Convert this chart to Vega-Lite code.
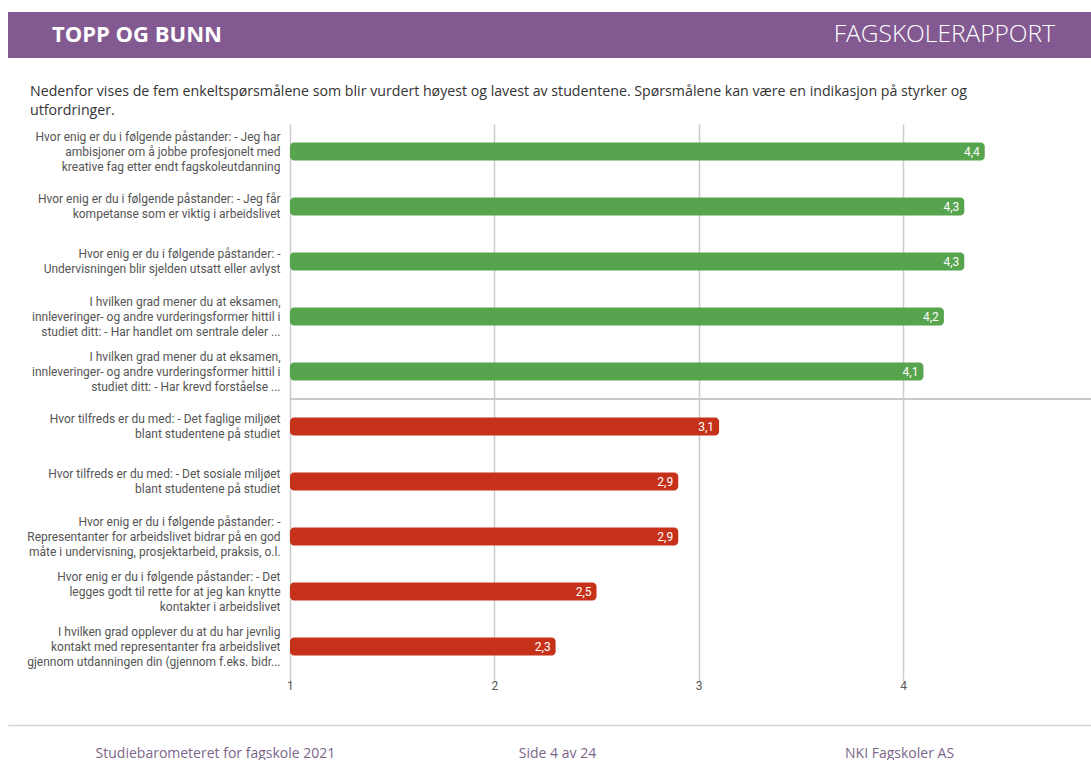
{
  "$schema": "https://vega.github.io/schema/vega-lite/v6.json",
  "padding": {"left": 8, "top": 12, "right": 0, "bottom": 0},
  "background": "white",
  "spacing": 26,
  "config": {
    "view": {"stroke": null},
    "font": "Roboto",
    "locale": {"number": {"decimal": ",", "thousands": " ", "grouping": [3], "currency": ["", " kr"]}}
  },
  "vconcat": [
    {
      "width": 1083,
      "height": 46,
      "view": {"fill": "#825a91", "stroke": null},
      "data": {"values": [{"t": "TOPP OG BUNN"}, {"t": "FAGSKOLERAPPORT"}]},
      "encoding": {
        "x": {"field": "t", "type": "nominal", "scale": {"type": "point", "domain": ["TOPP OG BUNN", "FAGSKOLERAPPORT"], "padding": 0}, "axis": null},
        "text": {"field": "t"}
      },
      "layer": [
        {
          "transform": [{"filter": "datum.t == 'TOPP OG BUNN'"}],
          "mark": {"type": "text", "align": "left", "baseline": "middle", "dx": 44, "fontSize": 22, "fontWeight": "bold", "font": "Open Sans", "color": "white"}
        },
        {
          "transform": [{"filter": "datum.t == 'FAGSKOLERAPPORT'"}],
          "mark": {"type": "text", "align": "right", "baseline": "middle", "dx": -36, "fontSize": 24.5, "fontWeight": 300, "font": "Open Sans", "color": "white"}
        }
      ]
    },
    {
      "width": 1083,
      "height": 550,
      "title": {
        "text": ["Nedenfor vises de fem enkeltspørsmålene som blir vurdert høyest og lavest av studentene. Spørsmålene kan være en indikasjon på styrker og", "utfordringer."],
        "anchor": "start",
        "frame": "group",
        "dx": 22,
        "offset": 6,
        "fontSize": 14.2,
        "font": "Open Sans",
        "fontWeight": "normal",
        "color": "#333333",
        "lineHeight": 19
      },
      "data": {"values": [
        {"q": "Hvor enig er du i følgende påstander: - Jeg har|ambisjoner om å jobbe profesjonelt med|kreative fag etter endt fagskoleutdanning", "v": 4.4, "g": "topp"},
        {"q": "Hvor enig er du i følgende påstander: - Jeg får|kompetanse som er viktig i arbeidslivet", "v": 4.3, "g": "topp"},
        {"q": "Hvor enig er du i følgende påstander: -|Undervisningen blir sjelden utsatt eller avlyst", "v": 4.3, "g": "topp"},
        {"q": "I hvilken grad mener du at eksamen,|innleveringer- og andre vurderingsformer hittil i|studiet ditt: - Har handlet om sentrale deler ...", "v": 4.2, "g": "topp"},
        {"q": "I hvilken grad mener du at eksamen,|innleveringer- og andre vurderingsformer hittil i|studiet ditt: - Har krevd forståelse ...", "v": 4.1, "g": "topp"},
        {"q": "Hvor tilfreds er du med: - Det faglige miljøet|blant studentene på studiet", "v": 3.1, "g": "bunn"},
        {"q": "Hvor tilfreds er du med: - Det sosiale miljøet|blant studentene på studiet", "v": 2.9, "g": "bunn"},
        {"q": "Hvor enig er du i følgende påstander: -|Representanter for arbeidslivet bidrar på en god|måte i undervisning, prosjektarbeid, praksis, o.l.", "v": 2.9, "g": "bunn"},
        {"q": "Hvor enig er du i følgende påstander: - Det|legges godt til rette for at jeg kan knytte|kontakter i arbeidslivet", "v": 2.5, "g": "bunn"},
        {"q": "I hvilken grad opplever du at du har jevnlig|kontakt med representanter fra arbeidslivet|gjennom utdanningen din (gjennom f.eks. bidr...", "v": 2.3, "g": "bunn"}
      ]},
      "encoding": {
        "y": {
          "field": "q", "type": "nominal", "sort": null,
          "scale": {"paddingInner": 0, "paddingOuter": 0},
          "axis": {
            "title": null, "domain": false, "ticks": false, "labelPadding": 10, "offset": -282,
            "labelFont": "Roboto", "labelFontSize": 12, "labelColor": "#555555",
            "labelLineHeight": 15, "labelExpr": "split(datum.label, '|')", "labelLimit": 400,
            "labelOffset": {"condition": {"test": "length(split(datum.value, '|')) == 3", "value": -15}, "value": -7.5},
            "minExtent": 0, "maxExtent": 0
          }
        }
      },
      "layer": [
        {
          "mark": {"type": "bar", "size": 18, "cornerRadiusEnd": 4},
          "encoding": {
            "x": {
              "field": "v", "type": "quantitative",
              "scale": {"domain": [-0.38, 4.92], "nice": false, "zero": false},
              "axis": {
                "title": null, "values": [1, 2, 3, 4], "format": "d", "domain": false,
                "grid": true, "gridColor": "#cccccc", "gridWidth": 1.5,
                "tickColor": "#cccccc", "tickWidth": 1.5, "tickSize": 7,
                "labelFont": "Roboto", "labelFontSize": 12, "labelColor": "#555555",
                "labelPadding": -1, "labelFlush": false
              }
            },
            "x2": {"datum": 1},
            "color": {"field": "g", "type": "nominal", "scale": {"domain": ["topp", "bunn"], "range": ["#57a44e", "#c53219"]}, "legend": null}
          }
        },
        {
          "mark": {"type": "text", "align": "right", "baseline": "middle", "dx": -5, "color": "white", "fontSize": 12, "font": "Roboto"},
          "encoding": {
            "x": {"field": "v", "type": "quantitative"},
            "text": {"field": "v", "type": "quantitative", "format": ".1f"}
          }
        },
        {
          "mark": {"type": "rule", "color": "#c8c8c8", "strokeWidth": 1.5},
          "encoding": {
            "x": {"datum": 1},
            "x2": {"datum": 4.92},
            "y": {"datum": "Hvor tilfreds er du med: - Det faglige miljøet|blant studentene på studiet", "type": "nominal", "bandPosition": 0}
          }
        }
      ]
    },
    {
      "width": 1083,
      "height": 8,
      "data": {"values": [{"f": "Studiebarometeret for fagskole 2021"}, {"f": "Side 4 av 24"}, {"f": "NKI Fagskoler AS"}]},
      "mark": {"type": "point", "opacity": 0},
      "encoding": {
        "x": {
          "field": "f", "type": "nominal", "sort": null,
          "scale": {"type": "point", "padding": 0.583},
          "axis": {
            "title": null, "orient": "bottom", "domain": true, "domainColor": "#d9d0e0", "domainWidth": 1.5,
            "ticks": false, "labelAngle": 0, "labelFont": "Open Sans", "labelFontSize": 14,
            "labelColor": "#7b6688", "labelPadding": 21, "labelOffset": 7.5, "labelOverlap": false, "labelLimit": 400
          }
        }
      }
    }
  ]
}
